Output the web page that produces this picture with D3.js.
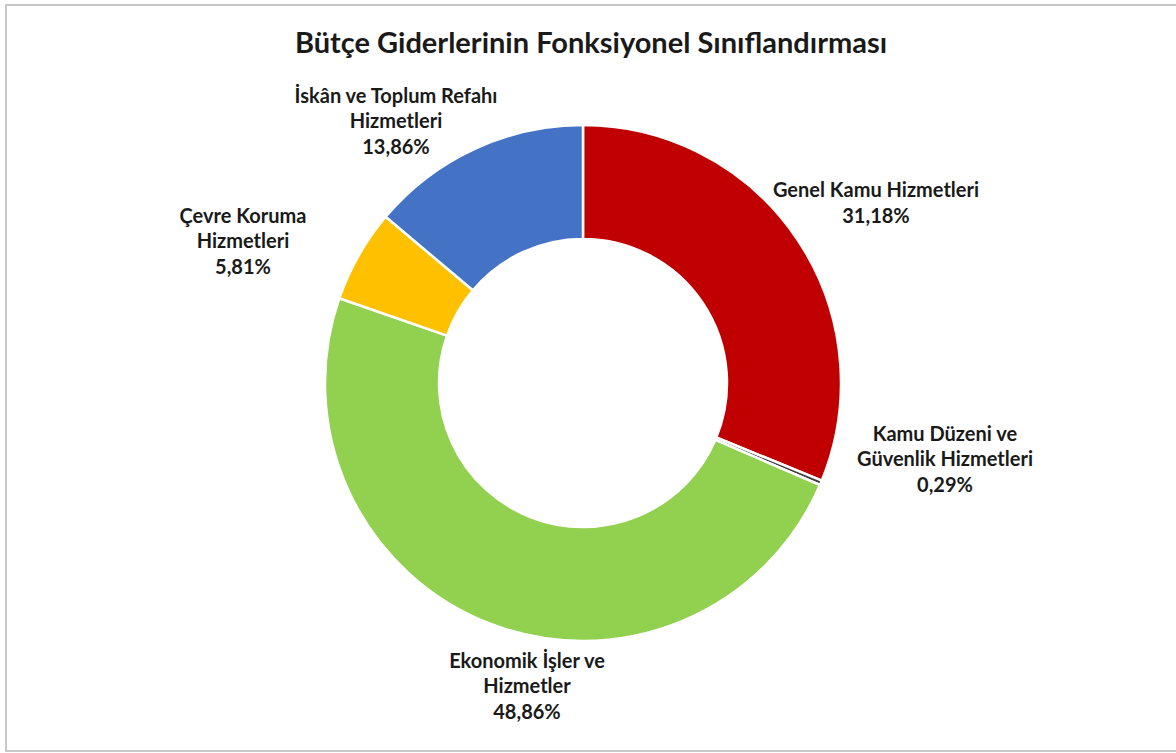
<!DOCTYPE html>
<html>
<head>
<meta charset="utf-8">
<script src="https://cdn.jsdelivr.net/npm/d3@7"></script>
<style>
  body { margin: 0; background: #fff; }
  svg { display: block; }
  text { font-family: Lato, "Open Sans", sans-serif; font-weight: bold; fill: #1a1a1a; }
</style>
</head>
<body>
<svg id="chart" width="1176" height="753"></svg>
<script>
var categories = ["Genel Kamu Hizmetleri", "Kamu Düzeni ve Güvenlik Hizmetleri", "Ekonomik İşler ve Hizmetler", "Çevre Koruma Hizmetleri", "İskân ve Toplum Refahı Hizmetleri"];
var shares = [31.18, 0.29, 48.86, 5.81, 13.86];
var labelLines = [
  ["Genel Kamu Hizmetleri"],
  ["Kamu Düzeni ve", "Güvenlik Hizmetleri"],
  ["Ekonomik İşler ve", "Hizmetler"],
  ["Çevre Koruma", "Hizmetleri"],
  ["İskân ve Toplum Refahı", "Hizmetleri"]
];
var colors = ["#C00000", "#404040", "#92D050", "#FFC000", "#4472C4"];

// label centres relative to the donut centre (layout only)
var labelOffsets = [[293, -180], [362, 76], [-56, 303], [-340, -142], [-187, -262]];

var width = 1176, height = 753;
var cx = 583, cy = 383, outerR = 258, innerR = 144;
var lineH = 25.5;
var formatShare = function(v) { return v.toFixed(2).replace(".", ",") + "%"; };

var svg = d3.select("#chart");

svg.append("rect")
  .attr("x", 6).attr("y", 5)
  .attr("width", 1300).attr("height", 746)
  .attr("fill", "none")
  .attr("stroke", "#c8c8c8")
  .attr("stroke-width", 2);

svg.append("text")
  .attr("x", 591).attr("y", 53)
  .attr("text-anchor", "middle")
  .style("font-size", "29px")
  .text("Bütçe Giderlerinin Fonksiyonel Sınıflandırması");

var pie = d3.pie().sort(null).value(function(d) { return d; });
var arc = d3.arc().innerRadius(innerR).outerRadius(outerR);

var g = svg.append("g").attr("transform", "translate(" + cx + "," + cy + ")");

g.selectAll("path")
  .data(pie(shares))
  .enter().append("path")
  .attr("d", arc)
  .attr("fill", function(d, i) { return colors[i]; })
  .attr("stroke", "#fff")
  .attr("stroke-width", 2.5)
  .attr("stroke-linejoin", "round");

var labels = g.selectAll("text.lbl")
  .data(categories)
  .enter().append("text")
  .attr("class", "lbl")
  .attr("text-anchor", "middle")
  .style("font-size", "20px");

labels.each(function(d, i) {
  var lines = labelLines[i].concat([formatShare(shares[i])]);
  var off = labelOffsets[i];
  var top = off[1] - (lines.length - 1) * lineH / 2;
  var t = d3.select(this);
  lines.forEach(function(line, j) {
    t.append("tspan")
      .attr("x", off[0])
      .attr("y", top + j * lineH + 7)
      .text(line);
  });
});
</script>
</body>
</html>
